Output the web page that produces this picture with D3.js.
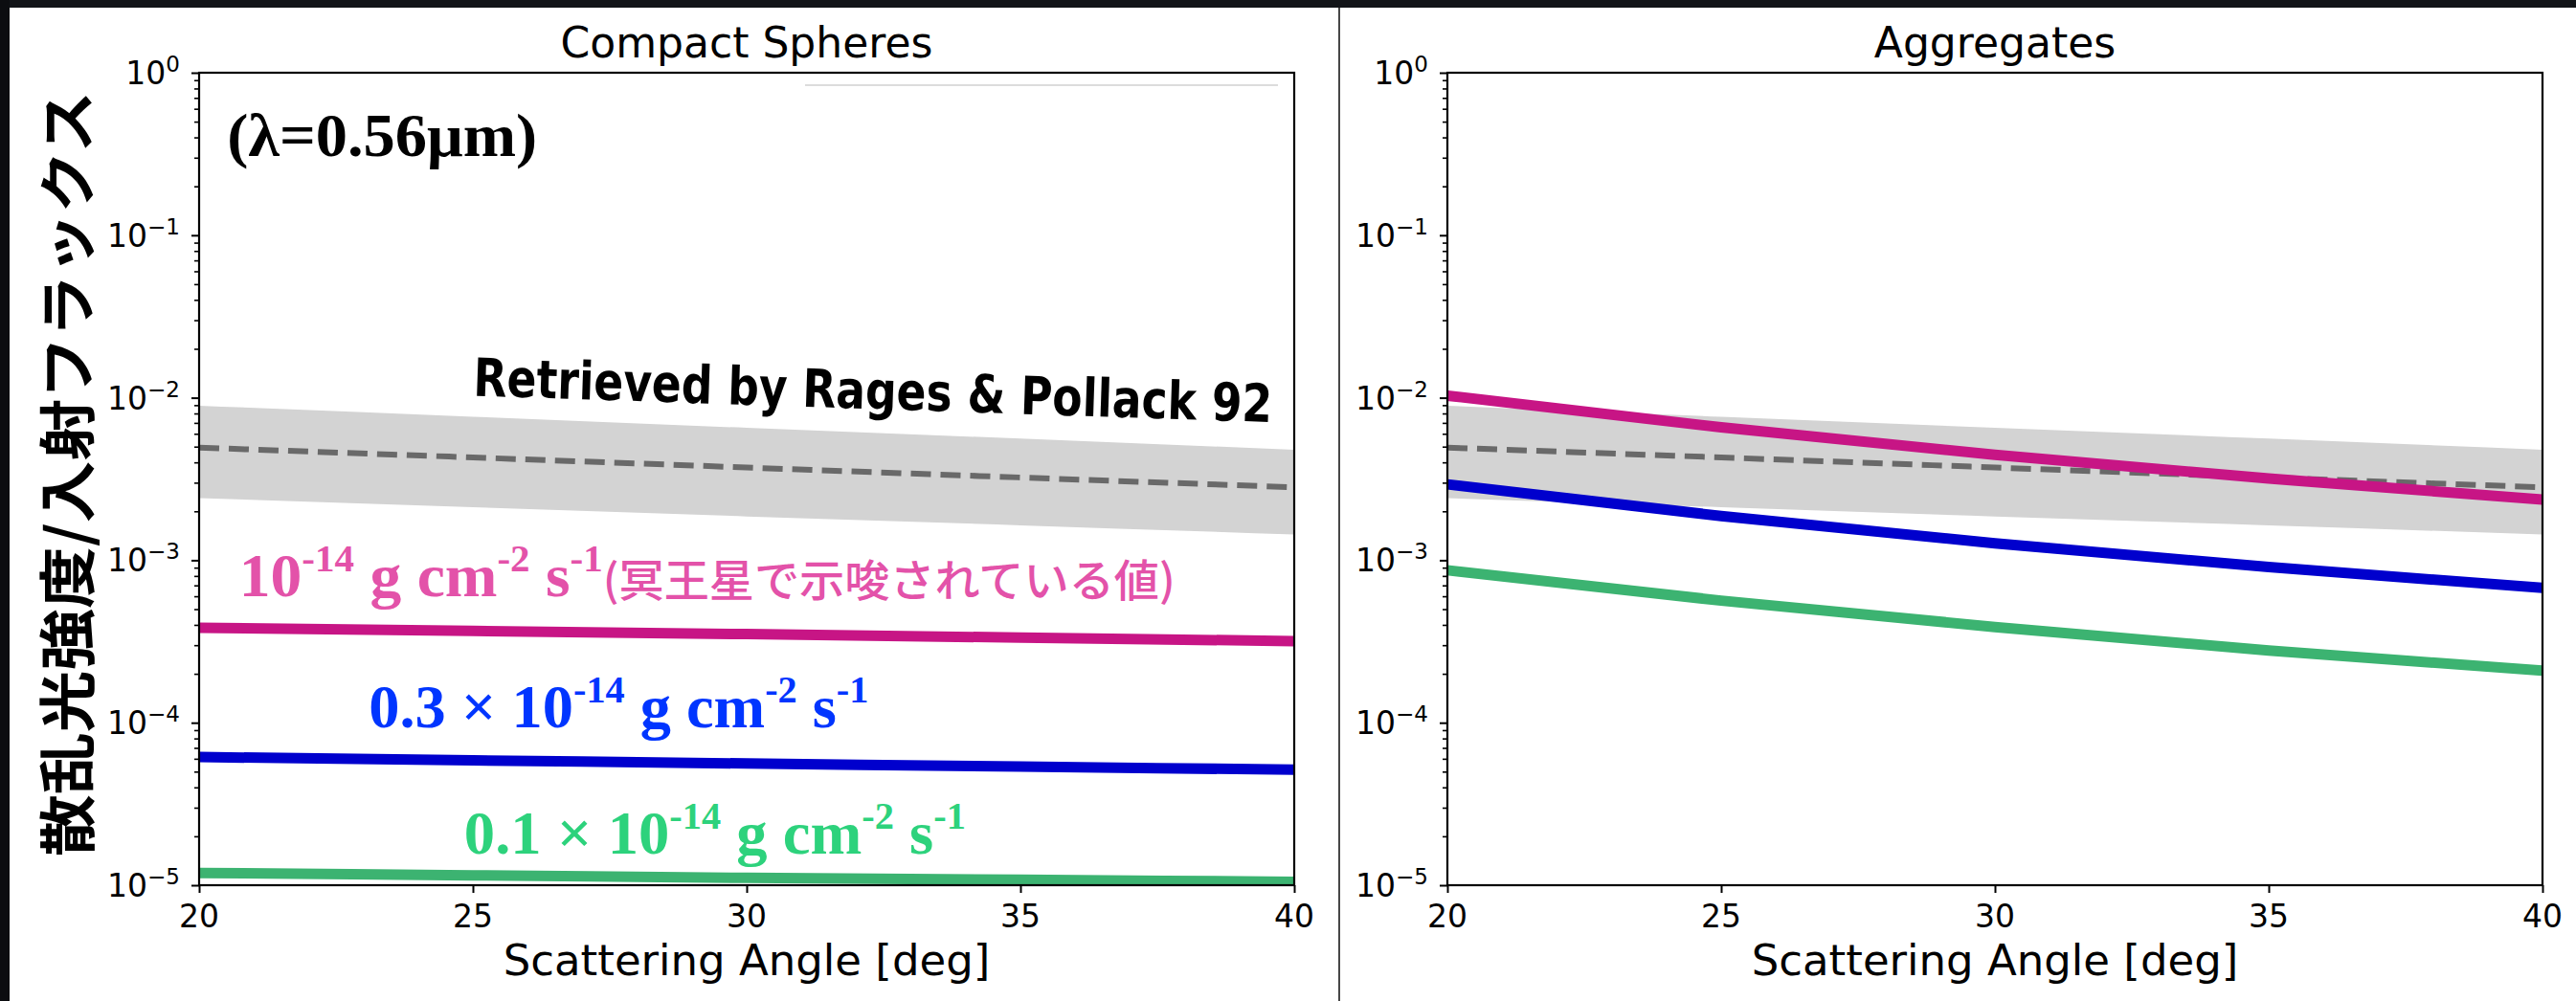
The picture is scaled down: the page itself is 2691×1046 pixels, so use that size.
<!DOCTYPE html>
<html>
<head>
<meta charset="utf-8">
<script src="https://cdn.jsdelivr.net/npm/d3@7"></script>
<style>
  html, body { margin: 0; padding: 0; background: #ffffff; }
  svg { display: block; }
</style>
</head>
<body>
<svg id="chart" width="2691" height="1046"></svg>
<script>
// Scattering angle samples (deg)
const angles = [20, 25, 30, 35, 40];

// Retrieved brightness range (Rages & Pollack 1992): band and central estimate
const bandUpper = [8.93e-3, 7.64e-3, 6.53e-3, 5.60e-3, 4.79e-3];
const bandLower = [2.41e-3, 2.12e-3, 1.86e-3, 1.64e-3, 1.44e-3];
const retrieved = [4.93e-3, 4.29e-3, 3.72e-3, 3.23e-3, 2.81e-3];

// Compact spheres, three dust production rates
const compactFull = [3.84e-4, 3.67e-4, 3.51e-4, 3.34e-4, 3.18e-4];
const compact03 = [6.15e-5, 5.87e-5, 5.61e-5, 5.37e-5, 5.14e-5];
const compact01 = [1.19e-5, 1.15e-5, 1.11e-5, 1.08e-5, 1.05e-5];

// Aggregates, same production rates
const aggregateFull = [1.03e-2, 6.57e-3, 4.45e-3, 3.18e-3, 2.36e-3];
const aggregate03 = [2.93e-3, 1.87e-3, 1.27e-3, 9.07e-4, 6.75e-4];
const aggregate01 = [8.67e-4, 5.64e-4, 3.88e-4, 2.78e-4, 2.09e-4];

// Axis ticks and text
const xTicks = [20, 25, 30, 35, 40];
const yTickExponents = [0, -1, -2, -3, -4, -5];
const panelTitles = ["Compact Spheres", "Aggregates"];
const xLabel = "Scattering Angle [deg]";
const yLabel = "散乱光強度/入射フラックス";
const wavelengthLabel = "(λ=0.56μm)";
const retrievedLabel = "Retrieved by Rages & Pollack 92";

const seriesColors = { full: "#c71585", mid: "#0000cd", low: "#3cb371" };
const labelColors = { full: "#e352a9", mid: "#0035ff", low: "#2dd27c" };

const svg = d3.select("#chart");
const W = 2691, H = 1046;

// dark frame strips along the top and left edges
svg.append("rect").attr("x", 0).attr("y", 0).attr("width", W).attr("height", 8).attr("fill", "#121418");
svg.append("rect").attr("x", 0).attr("y", 0).attr("width", 10).attr("height", H).attr("fill", "#0c0d10");

// separator between the two panels
svg.append("line").attr("x1", 1399).attr("x2", 1399).attr("y1", 8).attr("y2", H)
  .attr("stroke", "#1a1a1a").attr("stroke-width", 1.6);

const axTop = 76, axBottom = 925;
const panelBoxes = [{ x0: 208, x1: 1352 }, { x0: 1512, x1: 2656 }];

const tickFont = "'DejaVu Sans', sans-serif";

function drawPanel(i, curves) {
  const box = panelBoxes[i];
  const x = d3.scaleLinear().domain([20, 40]).range([box.x0, box.x1]);
  const y = d3.scaleLog().domain([1e-5, 1]).range([axBottom, axTop]);
  const g = svg.append("g");

  const clipId = "clip" + i;
  svg.append("clipPath").attr("id", clipId).append("rect")
    .attr("x", box.x0).attr("y", axTop).attr("width", box.x1 - box.x0).attr("height", axBottom - axTop);

  const plot = g.append("g").attr("clip-path", `url(#${clipId})`);

  // retrieved band
  const area = d3.area()
    .x((d, k) => x(angles[k]))
    .y0((d, k) => y(bandLower[k]))
    .y1((d, k) => y(bandUpper[k]))
    .curve(d3.curveMonotoneX);
  plot.append("path").datum(angles).attr("d", area).attr("fill", "#d3d3d3");

  const line = d3.line()
    .x((d, k) => x(angles[k]))
    .y(d => y(d))
    .curve(d3.curveMonotoneX);

  plot.append("path").datum(retrieved).attr("d", line)
    .attr("fill", "none").attr("stroke", "#696969").attr("stroke-width", 6)
    .attr("stroke-dasharray", "21,10");

  curves.forEach(c => {
    plot.append("path").datum(c.values).attr("d", line)
      .attr("fill", "none").attr("stroke", c.color).attr("stroke-width", 11);
  });

  // minor log ticks
  const minor = [];
  for (let e = -5; e < 0; e++) for (let m = 2; m <= 9; m++) minor.push(m * Math.pow(10, e));
  g.append("g").attr("transform", `translate(${box.x0},0)`)
    .call(d3.axisLeft(y).tickValues(minor).tickSize(5).tickFormat(""))
    .call(s => s.select(".domain").remove())
    .call(s => s.selectAll("line").attr("stroke", "#000").attr("stroke-width", 1.6));

  // major y ticks
  const majors = yTickExponents.map(e => Math.pow(10, e));
  g.append("g").attr("transform", `translate(${box.x0},0)`)
    .call(d3.axisLeft(y).tickValues(majors).tickSize(8).tickFormat(""))
    .call(s => s.select(".domain").remove())
    .call(s => s.selectAll("line").attr("stroke", "#000").attr("stroke-width", 2));

  // y tick labels: 10 with superscript exponent
  yTickExponents.forEach(e => {
    const t = g.append("text")
      .attr("x", box.x0 - 20).attr("y", y(Math.pow(10, e)) + 12)
      .attr("text-anchor", "end")
      .attr("font-family", tickFont).attr("fill", "#000");
    t.append("tspan").attr("font-size", 33).text("10");
    t.append("tspan").attr("font-size", 23).attr("dy", -13)
      .text(e === 0 ? "0" : "\u2212" + Math.abs(e));
  });

  // x ticks
  g.append("g").attr("transform", `translate(0,${axBottom})`)
    .call(d3.axisBottom(x).tickValues(xTicks).tickSize(8).tickFormat(""))
    .call(s => s.select(".domain").remove())
    .call(s => s.selectAll("line").attr("stroke", "#000").attr("stroke-width", 2));

  xTicks.forEach(v => {
    g.append("text").attr("x", x(v)).attr("y", 969)
      .attr("text-anchor", "middle").attr("font-family", tickFont)
      .attr("font-size", 33).attr("fill", "#000").text(v);
  });

  // frame
  g.append("rect").attr("x", box.x0).attr("y", axTop)
    .attr("width", box.x1 - box.x0).attr("height", axBottom - axTop)
    .attr("fill", "none").attr("stroke", "#000").attr("stroke-width", 2.2);

  // title and x label
  g.append("text").attr("x", (box.x0 + box.x1) / 2).attr("y", 60)
    .attr("text-anchor", "middle").attr("font-family", tickFont)
    .attr("font-size", 44).attr("fill", "#000").text(panelTitles[i]);
  g.append("text").attr("x", (box.x0 + box.x1) / 2).attr("y", 1019)
    .attr("text-anchor", "middle").attr("font-family", tickFont)
    .attr("font-size", 45).attr("fill", "#000").text(xLabel);

  return { x, y, g };
}

const leftPanel = drawPanel(0, [
  { values: compactFull, color: seriesColors.full },
  { values: compact03, color: seriesColors.mid },
  { values: compact01, color: seriesColors.low }
]);
drawPanel(1, [
  { values: aggregateFull, color: seriesColors.full },
  { values: aggregate03, color: seriesColors.mid },
  { values: aggregate01, color: seriesColors.low }
]);

// faint guide line near the top of the left panel
svg.append("line").attr("x1", 841).attr("x2", 1335).attr("y1", 89).attr("y2", 89)
  .attr("stroke", "#d0d0d0").attr("stroke-width", 1.6);

// annotations on the left panel
const serif = "'Liberation Serif', 'Times New Roman', serif";
const lx = leftPanel.x, ly = leftPanel.y;

leftPanel.g.append("text")
  .attr("x", lx(20.51)).attr("y", ly(0.307))
  .attr("font-family", serif).attr("font-weight", "bold").attr("font-size", 64)
  .attr("fill", "#000").attr("textLength", 324).attr("lengthAdjust", "spacingAndGlyphs")
  .text(wavelengthLabel);

leftPanel.g.append("text")
  .attr("transform", `translate(${lx(25.0)},${ly(0.0103)}) rotate(1.9)`)
  .attr("font-family", "'DejaVu Sans', sans-serif").attr("font-weight", "bold").attr("font-size", 55)
  .attr("fill", "#000").attr("textLength", 835).attr("lengthAdjust", "spacingAndGlyphs")
  .text(retrievedLabel);

function rateLabel(xv, yv, parts, color, width) {
  const t = leftPanel.g.append("text")
    .attr("x", lx(xv)).attr("y", ly(yv))
    .attr("font-family", serif).attr("font-weight", "bold").attr("fill", color)
    .attr("textLength", width).attr("lengthAdjust", "spacingAndGlyphs");
  let shifted = false;
  parts.forEach(p => {
    const s = t.append("tspan");
    if (p.sup) {
      s.attr("font-size", 40).attr("dy", shifted ? 0 : -26);
      shifted = true;
    } else {
      s.attr("font-size", p.jp ? 46 : 64).attr("dy", shifted ? 26 : 0);
      shifted = false;
      if (p.jp) s.attr("font-family", "'Noto Sans CJK JP', sans-serif").attr("font-weight", 500);
    }
    s.text(p.t);
  });
}

rateLabel(20.73, 6.0e-4, [
  { t: "10" }, { t: "-14", sup: true }, { t: " g cm" }, { t: "-2", sup: true },
  { t: " s" }, { t: "-1", sup: true }, { t: "(冥王星で示唆されている値)", jp: true }
], labelColors.full, 978);

rateLabel(23.1, 9.37e-5, [
  { t: "0.3 × 10" }, { t: "-14", sup: true }, { t: " g cm" }, { t: "-2", sup: true },
  { t: " s" }, { t: "-1", sup: true }
], labelColors.mid, 522);

rateLabel(24.84, 1.56e-5, [
  { t: "0.1 × 10" }, { t: "-14", sup: true }, { t: " g cm" }, { t: "-2", sup: true },
  { t: " s" }, { t: "-1", sup: true }
], labelColors.low, 524);

// vertical axis label for the figure
svg.append("text")
  .attr("transform", "translate(66,495) rotate(-90)")
  .attr("text-anchor", "middle").attr("dominant-baseline", "central")
  .attr("font-family", "'Noto Sans CJK JP', sans-serif").attr("font-weight", 700)
  .attr("font-size", 60).attr("fill", "#000")
  .attr("textLength", 800).attr("lengthAdjust", "spacingAndGlyphs")
  .text(yLabel);
</script>
</body>
</html>
